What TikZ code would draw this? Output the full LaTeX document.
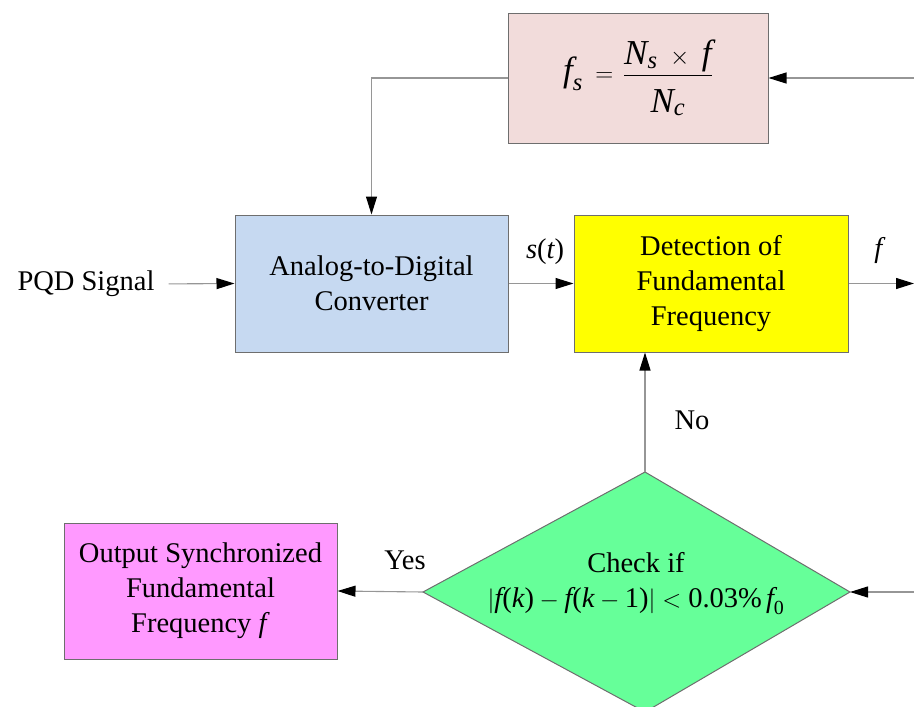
\documentclass[tikz,border=0pt]{standalone}
\usepackage{amsmath}
\usepackage{fontspec}
\setmainfont{Liberation Serif}
\usetikzlibrary{arrows.meta}
\definecolor{pinkbox}{RGB}{242,220,219}
\definecolor{bluebox}{RGB}{198,217,241}
\definecolor{yellowbox}{RGB}{255,255,0}
\definecolor{greenbox}{RGB}{102,255,153}
\definecolor{magbox}{RGB}{255,153,255}
\definecolor{bordergray}{RGB}{110,110,110}
\definecolor{linegray}{RGB}{150,150,150}
\newcommand{\itx}[1]{\textit{#1}}
\newcommand{\rmx}[1]{\textrm{#1}}
\begin{document}
\begin{tikzpicture}[x=1pt,y=-1pt,
  font=\fontsize{28.5}{35}\selectfont,
  blockbox/.style={draw=bordergray, line width=1pt, align=center, inner sep=0pt},
  conn/.style={draw=linegray, line width=1.1pt, -{Triangle[length=18pt,width=11pt,color=black]}},
  lbl/.style={inner sep=0pt}]
\useasboundingbox (0,0) rectangle (914,707);
\clip (0,0) rectangle (914,707);

\node[blockbox, fill=pinkbox, minimum width=260pt, minimum height=130pt,
      font=\fontsize{35}{42}\selectfont] (fs) at (638,78)
  {$\itx{f}_{\itx{s}}\mkern4mu=\mkern2mu\dfrac{\itx{N}_{\itx{s}}\mkern5mu\times\mkern5mu\itx{f}}{\rule{0pt}{0.95em}\itx{N}_{\itx{c}}}$};
\node[blockbox, fill=bluebox, minimum width=273pt, minimum height=137pt] (adc) at (371.5,283.5)
  {Analog-to-Digital\\Converter};
\node[blockbox, fill=yellowbox, minimum width=274pt, minimum height=137pt] (det) at (711,283.5)
  {Detection of\\Fundamental\\Frequency};

% decision diamond
\coordinate (ctop) at (645,472);
\coordinate (cright) at (850,592);
\coordinate (cbot) at (645,712);
\coordinate (cleft) at (423,592);
\filldraw[fill=greenbox, draw=bordergray, line width=1pt] (ctop) -- (cright) -- (cbot) -- (cleft) -- cycle;
\node[lbl, align=center] (chktxt) at (636,584)
  {Check if\\$\lvert\itx{f}\rmx{(}\itx{k}\rmx{)}-\itx{f}\rmx{(}\itx{k}-\rmx{1)}\rvert<\rmx{0.03\%}\,\itx{f}_{\rmx{0}}$};

\node[blockbox, fill=magbox, minimum width=273pt, minimum height=136pt] (out) at (200.5,591)
  {Output Synchronized\\Fundamental\\Frequency \itx{f}};

\node[lbl] (pqd) at (86,284) {PQD Signal};
\node[lbl] (st) at (545,252) {$\itx{s}\rmx{(}\itx{t}\rmx{)}$};
\node[lbl] (flbl) at (880,250) {\itx{f}};
\node[lbl] (no) at (692,420) {No};
\node[lbl] (yes) at (405,560) {Yes};

\coordinate (fin) at (914,78);
\coordinate (fout) at (914,283.5);
\coordinate (kin) at (914,592);

\draw[conn] (fin) -- (fs.east);
\draw[conn] (fs.west) -| (adc.north);
\draw[conn, shorten <=14pt] (pqd.east) -- (adc.west);
\draw[conn] (adc.east) -- (det.west);
\draw[conn] (det.east) -- (fout);
\draw[conn] (ctop) -- (ctop |- det.south);
\draw[conn] (kin) -- (cright);
\draw[conn] (cleft) -- (out.east);
\end{tikzpicture}
\end{document}
